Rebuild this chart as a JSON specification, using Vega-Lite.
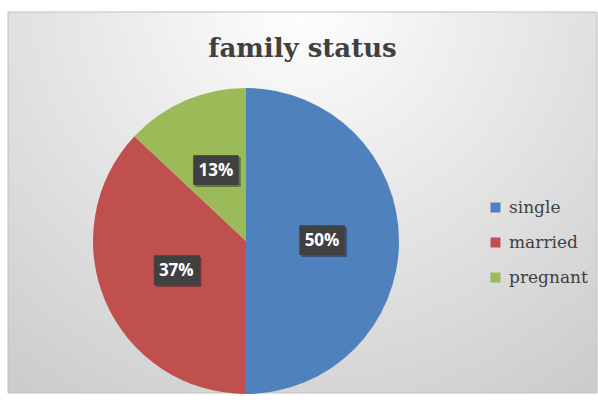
{
  "$schema": "https://vega.github.io/schema/vega-lite/v6.json",
  "width": 598,
  "height": 407,
  "autosize": {"type": "fit", "contains": "padding"},
  "padding": {"left": 7, "top": 11, "right": 0, "bottom": 13},
  "background": "#ffffff",
  "title": {
    "text": "family status",
    "font": "DejaVu Serif",
    "fontSize": 26,
    "fontWeight": "bold",
    "color": "#404040",
    "anchor": "middle",
    "offset": -50
  },
  "config": {"view": {"stroke": null}},
  "layer": [
    {
      "data": {"values": [{"bg": 1}]},
      "mark": {
        "type": "rect",
        "stroke": "#c0c0c0",
        "strokeWidth": 1,
        "color": {
          "gradient": "radial",
          "x1": 0.5, "y1": 0.15, "r1": 0,
          "x2": 0.5, "y2": 0.15, "r2": 0.95,
          "stops": [
            {"offset": 0, "color": "#ffffff"},
            {"offset": 1, "color": "#c4c4c4"}
          ]
        }
      },
      "encoding": {}
    },
    {
      "data": {"values": [
        {"status": "single", "value": 50, "rank": 1, "label": "50%"},
        {"status": "married", "value": 37, "rank": 2, "label": "37%"},
        {"status": "pregnant", "value": 13, "rank": 3, "label": "13%"}
      ]},
      "encoding": {
        "theta": {"field": "value", "type": "quantitative", "stack": true},
        "order": {"field": "rank", "type": "ordinal"},
        "x": {"value": 238},
        "y": {"value": 229}
      },
      "layer": [
        {
          "mark": {"type": "arc", "outerRadius": 153, "stroke": null},
          "encoding": {
            "color": {
              "field": "status",
              "type": "nominal",
              "scale": {"domain": ["single", "married", "pregnant"], "range": ["#4F81BD", "#C0504D", "#9BBB59"]},
              "legend": {
                "title": null,
                "orient": "none",
                "legendX": 479,
                "legendY": 187,
                "symbolType": "square",
                "symbolSize": 100,
                "symbolStrokeWidth": 0,
                "labelFont": "DejaVu Serif",
                "labelFontSize": 17,
                "labelColor": "#404040",
                "labelOffset": 5,
                "rowPadding": 17
              }
            }
          }
        },
        {
          "mark": {"type": "text", "radius": 76, "text": "███", "font": "DejaVu Sans Mono", "fontSize": 25, "color": "#000000", "opacity": 0.35, "dx": 2, "dy": 2, "baseline": "middle", "align": "center"}
        },
        {
          "mark": {"type": "text", "radius": 76, "text": "███", "font": "DejaVu Sans Mono", "fontSize": 25, "color": "#404040", "baseline": "middle", "align": "center"}
        },
        {
          "mark": {"type": "text", "radius": 76, "font": "Open Sans", "fontSize": 17, "fontWeight": "bold", "color": "#ffffff", "baseline": "middle", "align": "center"},
          "encoding": {"text": {"field": "label", "type": "nominal"}}
        }
      ]
    }
  ]
}
